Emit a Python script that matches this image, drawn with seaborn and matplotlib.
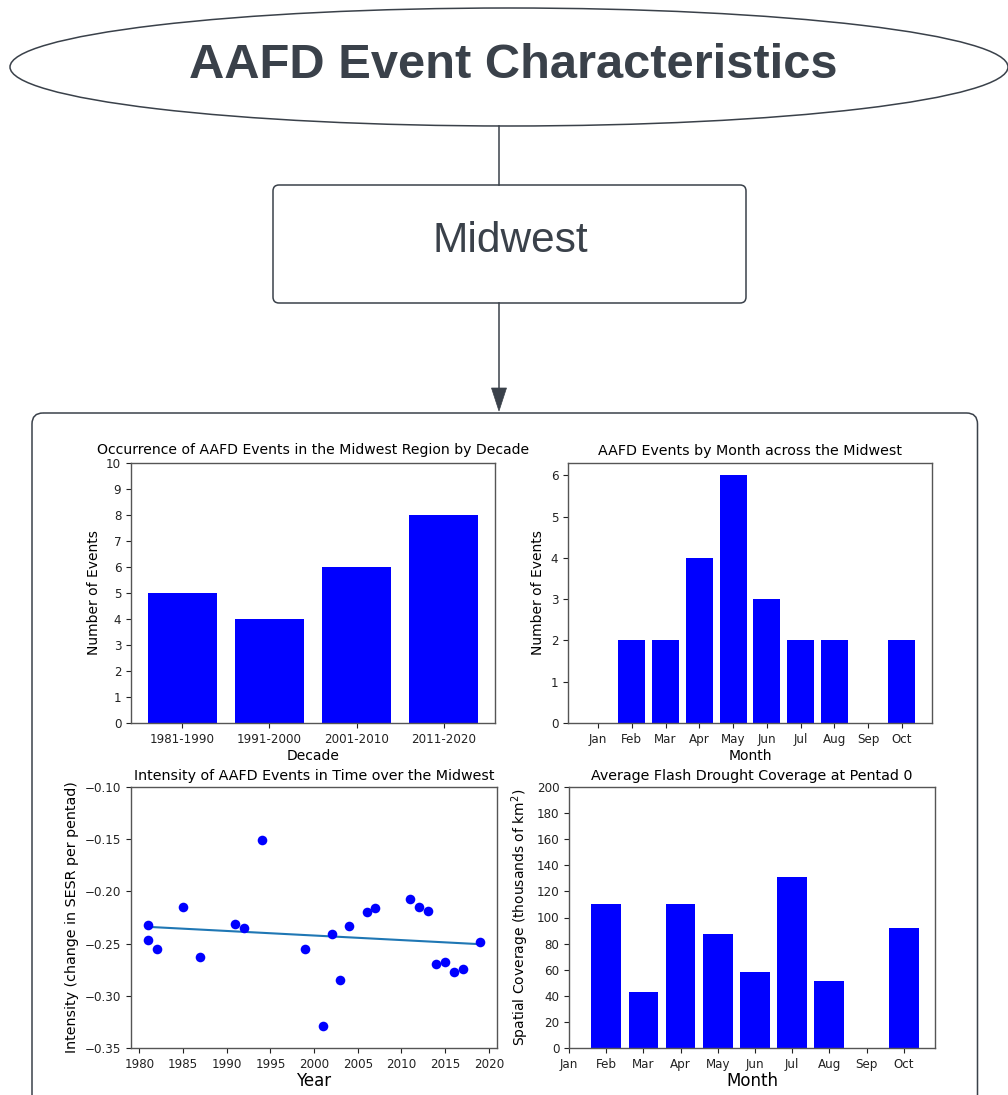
import numpy as np
import pandas as pd
import matplotlib
matplotlib.use("Agg")
import matplotlib.pyplot as plt
from matplotlib.patches import Ellipse, FancyBboxPatch, Polygon
import seaborn as sns

# Decadal event counts
decades = ["1981-1990", "1991-2000", "2001-2010", "2011-2020"]
decade_counts = [5, 4, 6, 8]

# Monthly event counts
months = ["Jan", "Feb", "Mar", "Apr", "May", "Jun", "Jul", "Aug", "Sep", "Oct"]
month_counts = [0, 2, 2, 4, 6, 3, 2, 2, 0, 2]

# Event intensity by year
event_years = [1981, 1981, 1982, 1985, 1987, 1991, 1992, 1994, 1999, 2001, 2002, 2003,
               2004, 2006, 2007, 2011, 2012, 2013, 2014, 2015, 2016, 2017, 2019]
event_intensity = [-0.232, -0.247, -0.255, -0.215, -0.263, -0.231, -0.235, -0.151, -0.255,
                   -0.329, -0.241, -0.285, -0.233, -0.220, -0.216, -0.207, -0.215, -0.219,
                   -0.270, -0.268, -0.277, -0.274, -0.248]

# Mean spatial coverage at pentad 0 (thousands of km^2)
coverage = [0, 110, 43, 110.5, 87, 58, 131, 51.5, 0, 92]

W, H = 1008, 1095
fig = plt.figure(figsize=(W / 100, H / 100), dpi=100)
fig.patch.set_facecolor("white")

DARK = "#3a414a"

# Flowchart layer in pixel coordinates
bg = fig.add_axes([0, 0, 1, 1], zorder=0)
bg.set_xlim(0, W)
bg.set_ylim(H, 0)
bg.axis("off")

bg.add_patch(Ellipse((509, 67), 998, 118, fill=False, edgecolor=DARK, lw=1.1))
bg.text(513, 77.5, "AAFD Event Characteristics", ha="center", va="baseline",
        fontsize=35.2, fontweight="bold", color=DARK, family="Liberation Sans")
bg.plot([499, 499], [126, 185], color=DARK, lw=1.1)
bg.add_patch(FancyBboxPatch((273, 185), 473, 118, boxstyle="round,pad=0,rounding_size=6",
                            fill=False, edgecolor=DARK, lw=1.1))
bg.text(510, 252, "Midwest", ha="center", va="baseline", fontsize=30.5,
        color=DARK, family="Liberation Sans")
bg.plot([499, 499], [303, 390], color=DARK, lw=1.1)
bg.add_patch(Polygon([[491.5, 388], [506.5, 388], [499, 411]], closed=True,
                     facecolor=DARK, edgecolor=DARK, lw=0.5))
bg.add_patch(FancyBboxPatch((32, 413), 945.5, 720, boxstyle="round,pad=0,rounding_size=11",
                            fill=False, edgecolor=DARK, lw=1.1))


def px_axes(x0, y0, x1, y1):
    return fig.add_axes([x0 / W, (H - y1) / H, (x1 - x0) / W, (y1 - y0) / H], zorder=2)


TICK = 8.6
TITLE = 10.3
LAB = 10

# Events by decade
ax1 = px_axes(131, 463, 495, 723)
sns.barplot(x=decades, y=decade_counts, order=decades, color="blue", saturation=1,
            width=0.8, edgecolor="none", ax=ax1)
ax1.set_xlim(-0.59, 3.59)
ax1.set_ylim(0, 10)
ax1.set_yticks(range(0, 11))
ax1.set_title("Occurrence of AAFD Events in the Midwest Region by Decade",
              fontsize=10.1, pad=6.5)
ax1.set_xlabel("Decade", fontsize=LAB, labelpad=2)
ax1.set_ylabel("Number of Events", fontsize=LAB)

# Events by month
ax2 = px_axes(568, 463, 932, 723)
sns.barplot(x=months, y=month_counts, order=months, color="blue", saturation=1,
            width=0.8, edgecolor="none", ax=ax2)
ax2.set_xlim(-0.89, 9.89)
ax2.set_ylim(0, 6.3)
ax2.set_title("AAFD Events by Month across the Midwest", fontsize=TITLE, pad=5.5)
ax2.set_xlabel("Month", fontsize=LAB, labelpad=2)
ax2.set_ylabel("Number of Events", fontsize=LAB)

# Intensity over time with linear trend
ax3 = px_axes(131, 787, 497, 1048)
sns.scatterplot(x=event_years, y=event_intensity, color="blue", s=48, linewidth=0, ax=ax3, zorder=3)
sns.regplot(x=event_years, y=event_intensity, scatter=False, ci=None, color="#1f77b4",
            line_kws={"lw": 1.5}, ax=ax3)
ax3.set_xlim(1979.05, 2020.93)
ax3.set_ylim(-0.35, -0.10)
ax3.set_yticks([-0.35, -0.30, -0.25, -0.20, -0.15, -0.10])
ax3.set_xticks(range(1980, 2021, 5))
ax3.set_title("Intensity of AAFD Events in Time over the Midwest", fontsize=TITLE, pad=5)
ax3.set_xlabel("Year", fontsize=12, labelpad=1)
ax3.set_ylabel("Intensity (change in SESR per pentad)", fontsize=10.3)

# Spatial coverage by month
ax4 = px_axes(569, 787, 935, 1048)
sns.barplot(x=months, y=coverage, order=months, color="blue", saturation=1,
            width=0.8, edgecolor="none", ax=ax4)
ax4.set_xlim(0, 9.84)
ax4.set_ylim(0, 200)
ax4.set_yticks(range(0, 201, 20))
ax4.set_title("Average Flash Drought Coverage at Pentad 0", fontsize=TITLE, pad=5)
ax4.set_xlabel("Month", fontsize=12, labelpad=1)
ax4.set_ylabel("Spatial Coverage (thousands of km$^2$)", fontsize=LAB)

for ax in (ax1, ax2, ax3, ax4):
    ax.tick_params(labelsize=TICK, length=3.5, width=0.8, colors="#222222")
    for sp in ax.spines.values():
        sp.set_visible(True)
        sp.set_color("#555555")
        sp.set_linewidth(1.0)

fig.savefig("out.png", dpi=100, facecolor="white")
